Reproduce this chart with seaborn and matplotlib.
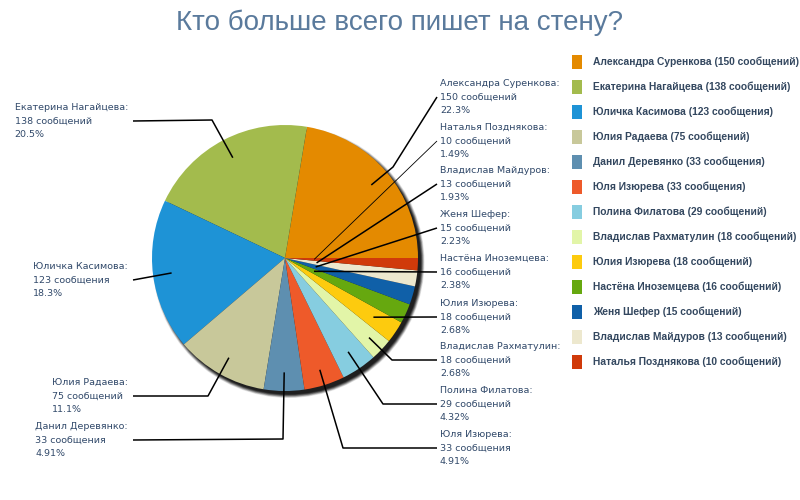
import matplotlib
matplotlib.use("Agg")
import matplotlib.pyplot as plt
from matplotlib.patches import Circle
import seaborn as sns
import numpy as np

# ---------------- data ----------------
names = ["Александра Суренкова", "Екатерина Нагайцева", "Юличка Касимова",
         "Юлия Радаева", "Данил Деревянко", "Юля Изюрева", "Полина Филатова",
         "Владислав Рахматулин", "Юлия Изюрева", "Настёна Иноземцева",
         "Женя Шефер", "Владислав Майдуров", "Наталья Позднякова"]
counts = [150, 138, 123, 75, 33, 33, 29, 18, 18, 16, 15, 13, 10]
words = ["сообщений", "сообщений", "сообщения", "сообщений", "сообщения",
         "сообщения", "сообщений", "сообщений", "сообщений", "сообщений",
         "сообщений", "сообщений", "сообщений"]
pct_labels = ["22.3%", "20.5%", "18.3%", "11.1%", "4.91%", "4.91%", "4.32%",
              "2.68%", "2.68%", "2.38%", "2.23%", "1.93%", "1.49%"]
colors = ["#E48A00", "#A3BB4D", "#1E93D6", "#C8C89A", "#5E8FB0", "#EE5A2A",
          "#86CDE0", "#E2F5A8", "#FDCB0E", "#66A80F", "#1060A8", "#EDE8CE",
          "#D03A0A"]
title = "Кто больше всего пишет на стену?"

# ---------------- layout (pixel coords, y from top) ----------------
W, H = 800, 500
CX, CY, R = 285, 258, 133
TXT = "#31496A"
# label block: (side, x, y of middle line, elbow or None, radius fraction)
layout = [
    ("R", 440, 97, (393, 167), 0.85),   # Александра
    ("L", 128, 121, (212, 120), 0.85),  # Екатерина
    ("L", 128, 280, None, 0.86),        # Юличка
    ("L", 128, 396, (208, 396), 0.86),  # Радаева
    ("L", 128, 440, (283, 439), 0.86),  # Данил
    ("R", 440, 448, (343, 448), 0.88),  # Юля Изюрева
    ("R", 440, 404, (383, 404), 0.85),  # Полина
    ("R", 440, 360, (392, 360), 0.87),  # Владислав Р
    ("R", 440, 317, None, 0.80),        # Юлия Изюрева
    ("R", 440, 272, None, 0.24),        # Настёна
    ("R", 440, 228, None, 0.24),        # Женя
    ("R", 440, 184, None, 0.24),        # Владислав М
    ("R", 440, 141, None, 0.22),        # Наталья
]
left_line_x = 133
right_line_x = 437
LBL_FS = 6.8

sns.set_theme(style="white")
plt.rcParams["font.family"] = ["DejaVu Sans"]
palette = sns.color_palette(colors)

fig = plt.figure(figsize=(8, 5), dpi=100)
ax = fig.add_axes([0, 0, 1, 1])


def fy(y):
    return H - y


# shadow
for i in range(7):
    ax.add_patch(Circle((CX + 3.5, fy(CY) - 4), R + 3 - i * 0.6,
                        facecolor="black", edgecolor="none", alpha=0.10 + 0.05 * i,
                        zorder=1))

wedges, _ = ax.pie(counts, colors=palette, startangle=0, counterclock=True,
                   center=(CX, fy(CY)), radius=R, frame=True,
                   wedgeprops=dict(linewidth=0, zorder=2))
ax.set_xlim(0, W)
ax.set_ylim(0, H)
ax.axis("off")

for w, name, c, wd, pct, (side, tx, ty, elbow, rf) in zip(
        wedges, names, counts, words, pct_labels, layout):
    mid = np.deg2rad((w.theta1 + w.theta2) / 2)
    px = CX + rf * R * np.cos(mid)
    py = fy(CY) + rf * R * np.sin(mid)
    lx = right_line_x if side == "R" else left_line_x
    xs = [px]
    ys = [py]
    if elbow is not None:
        xs.append(elbow[0]); ys.append(fy(elbow[1]))
    xs.append(lx); ys.append(fy(ty))
    lw = 0.6 if name == "Наталья Позднякова" else 1.1
    ax.plot(xs, ys, color="black", lw=lw, zorder=4, solid_capstyle="butt")
    block = f"{name}:\n{c} {wd}\n{pct}"
    ax.text(tx, fy(ty), block, ha="left" if side == "R" else "right",
            va="center", fontsize=LBL_FS, color=TXT, linespacing=1.68,
            zorder=5, multialignment="left")

ax.text(400, fy(30), title, ha="center", va="baseline", fontsize=20,
        color="#5A7A9C", family=["Liberation Sans", "DejaVu Sans"])

leg_labels = [f"{n} ({c} {wd})" for n, c, wd in zip(names, counts, words)]
leg = fig.legend(wedges, leg_labels, loc="upper left",
                 bbox_to_anchor=(572 / W, 1 - 55 / H), frameon=False,
                 prop=dict(weight="bold", size=7.4,
                           family=["Liberation Sans", "DejaVu Sans"]),
                 labelcolor="#33475F",
                 handlelength=0.98, handleheight=1.72, handletextpad=1.05,
                 labelspacing=1.07, borderaxespad=0, borderpad=0)

fig.savefig("out.png", dpi=100, facecolor="white")
